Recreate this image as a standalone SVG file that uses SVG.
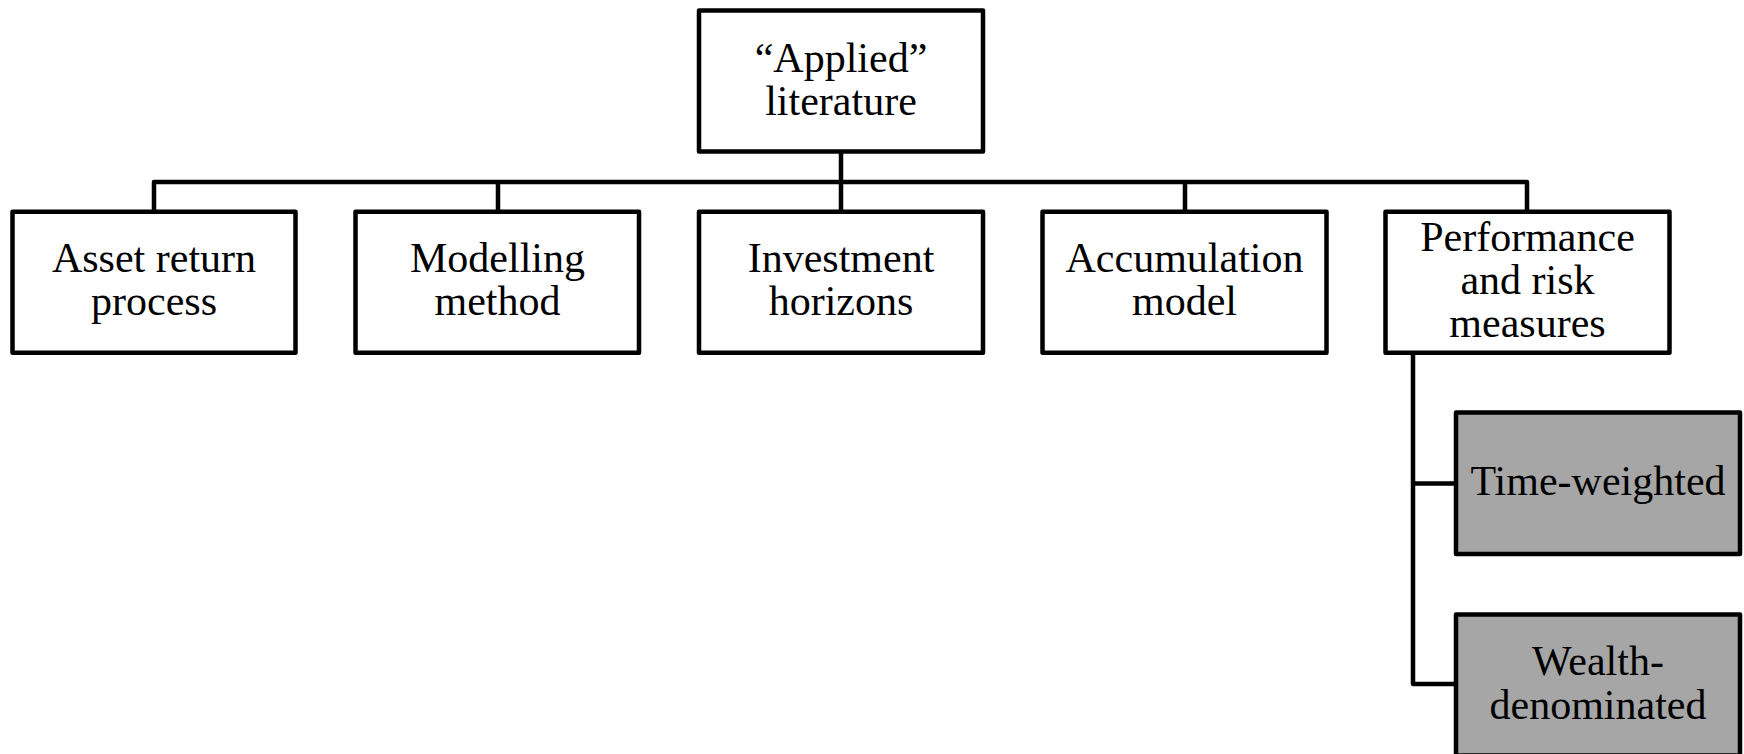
<svg xmlns="http://www.w3.org/2000/svg" width="1744" height="754" viewBox="0 0 1744 754">
<style>
.box{fill:#ffffff;stroke:#000000;stroke-width:4.5;stroke-linejoin:round}
.sub{fill:#a6a6a6;stroke:#000000;stroke-width:4.5;stroke-linejoin:round}
.lbl{font-family:"Liberation Serif","Times New Roman",serif;font-size:42px;fill:#000000;text-anchor:middle}
.conn{fill:none;stroke:#000000;stroke-width:4.5;stroke-linejoin:round;stroke-linecap:butt}
</style>
<rect width="1744" height="754" fill="#ffffff"/>
<g id="connectors">
<path class="conn" d="M841,152 V182 M154,211.7 V182 H1527 V211.7 M498,182 V211.7 M841,182 V211.7 M1185,182 V211.7"/>
<path class="conn" d="M1413,353 V684 H1456 M1413,483.5 H1456"/>
</g>
<g id="applied">
<rect class="box" x="699" y="10.5" width="284" height="141"/>
<text class="lbl" x="841" y="72">“Applied”</text>
<text class="lbl" x="841" y="115">literature</text>
</g>
<g id="asset">
<rect class="box" x="12.5" y="211.7" width="283" height="141"/>
<text class="lbl" x="154" y="271.5">Asset return</text>
<text class="lbl" x="154" y="315">process</text>
</g>
<g id="modelling">
<rect class="box" x="355.5" y="211.7" width="283.5" height="141"/>
<text class="lbl" x="497.5" y="271.5">Modelling</text>
<text class="lbl" x="497.5" y="315">method</text>
</g>
<g id="horizons">
<rect class="box" x="699" y="211.7" width="284" height="141"/>
<text class="lbl" x="841" y="271.5">Investment</text>
<text class="lbl" x="841" y="315">horizons</text>
</g>
<g id="accumulation">
<rect class="box" x="1042.5" y="211.7" width="284" height="141"/>
<text class="lbl" x="1184.5" y="271.5">Accumulation</text>
<text class="lbl" x="1184.5" y="315">model</text>
</g>
<g id="performance">
<rect class="box" x="1385.5" y="211.7" width="284" height="141"/>
<text class="lbl" x="1527.5" y="250.5">Performance</text>
<text class="lbl" x="1527.5" y="293.5">and risk</text>
<text class="lbl" x="1527.5" y="336.5">measures</text>
</g>
<g id="timeweighted">
<rect class="sub" x="1456" y="412.5" width="284" height="141.5"/>
<text class="lbl" x="1598" y="495">Time-weighted</text>
</g>
<g id="wealth">
<rect class="sub" x="1456" y="614.5" width="284" height="141"/>
<text class="lbl" x="1598" y="675">Wealth-</text>
<text class="lbl" x="1598" y="718.5">denominated</text>
</g>
</svg>
